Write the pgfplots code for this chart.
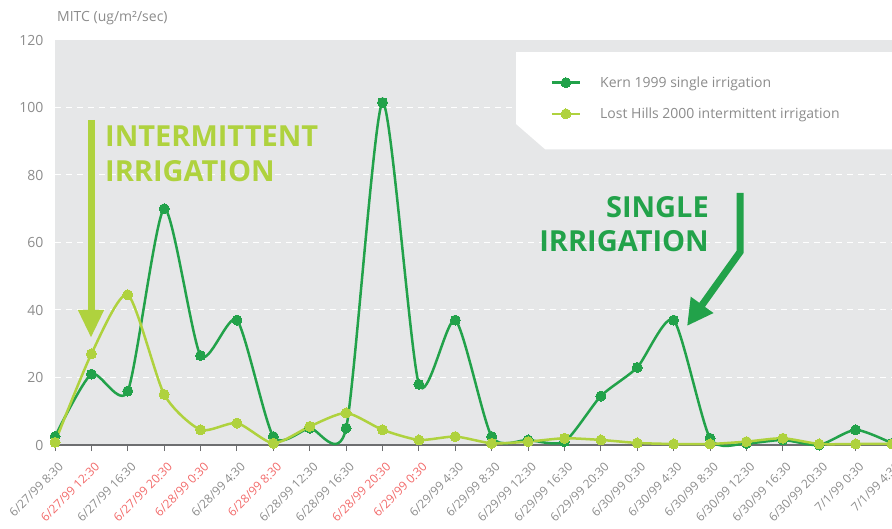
\documentclass[border=0pt]{standalone}
\usepackage{pgfplots}
\pgfplotsset{compat=1.18}
\usepackage{fontspec}
\setmainfont{Open Sans}
\usetikzlibrary{arrows.meta}
\definecolor{dg}{HTML}{22A24A}
\definecolor{lg}{HTML}{AFD23E}
\definecolor{bg}{HTML}{E6E7E8}
\definecolor{tx}{HTML}{8C8C8C}
\definecolor{rd}{HTML}{F26A6A}
\definecolor{axc}{HTML}{6D6E70}
\begin{document}
\begin{tikzpicture}[x=1pt,y=1pt]
\path[use as bounding box] (0,0) rectangle (892,528);
\begin{axis}[
  at={(55pt,83pt)}, anchor=south west, scale only axis,
  width=837pt, height=405pt,
  xmin=0, xmax=23, ymin=0, ymax=120, clip=false,
  axis background/.style={fill=bg},
  axis x line=bottom, axis y line=left,
  axis line style={-},
  x axis line style={axc, line width=1.5pt},
  y axis line style={draw=none},
  ytick={0,20,...,120}, ytick style={draw=none},
  xtick={0,...,23}, xtick style={axc, line width=1pt},
  tick align=outside, major tick length=6pt,
  ymajorgrids, grid style={white, dash pattern=on 6pt off 5pt, line width=1pt},
  /pgf/number format/assume math mode=true,
  yticklabel style={tx, font=\fontsize{14}{16}\selectfont, xshift=-2pt},
  xticklabel style={tx, font=\fontsize{12}{14}\selectfont, rotate=45, anchor=north east, inner sep=1pt, xshift=-4.6pt, yshift=-8.5pt},
  xticklabels={6/27/99 8:30,\textcolor{rd}{6/27/99 12:30},6/27/99 16:30,\textcolor{rd}{6/27/99 20:30},\textcolor{rd}{6/28/99 0:30},6/28/99 4:30,\textcolor{rd}{6/28/99 8:30},6/28/99 12:30,6/28/99 16:30,\textcolor{rd}{6/28/99 20:30},\textcolor{rd}{6/29/99 0:30},6/29/99 4:30,6/29/99 8:30,6/29/99 12:30,6/29/99 16:30,6/29/99 20:30,6/30/99 0:30,6/30/99 4:30,6/30/99 8:30,6/30/99 12:30,6/30/99 16:30,6/30/99 20:30,7/1/99 0:30,7/1/99 4:30},
  legend style={at={(0.592,0.915)}, anchor=north west, draw=none, fill=none,
    font=\fontsize{14}{16}\selectfont, text=tx, row sep=15pt, inner sep=0pt,
    /tikz/every odd column/.append style={column sep=17pt}},
  legend cell align=left,
  legend image code/.code={\draw[#1, mark repeat=2, mark phase=2] plot coordinates {(0pt,0pt) (14pt,0pt) (28pt,0pt)};},
]
\fill[white] (12.67,116.4) -- (23.2,116.4) -- (23.2,87.6) -- (13.47,87.6) -- (12.67,95.1) -- cycle;
\addplot[dg, line width=2.5pt, smooth, tension=0.4, mark=*, mark size=5pt, mark options={solid, fill=dg, draw=dg, line width=0pt}]
  coordinates {(0,2.5) (1,21) (2,16) (3,70) (4,26.5) (5,37) (6,2.5) (7,5) (8,5) (9,101.5) (10,18) (11,37) (12,2.5) (13,1.5) (14,1) (15,14.5) (16,23) (17,37) (18,2) (19,0.5) (20,1.5) (21,0) (22,4.5) (23,0.5)};
\addlegendentry{Kern 1999 single irrigation}
\addplot[lg, line width=2.5pt, smooth, tension=0.4, mark=*, mark size=5pt, mark options={solid, fill=lg, draw=lg, line width=0pt}]
  coordinates {(0,0.8) (1,27) (2,44.5) (3,15) (4,4.5) (5,6.5) (6,0.5) (7,5.5) (8,9.5) (9,4.5) (10,1.5) (11,2.5) (12,0.5) (13,1) (14,2) (15,1.5) (16,0.6) (17,0.3) (18,0.3) (19,1) (20,2) (21,0.3) (22,0.3) (23,0.3)};
\addlegendentry{Lost Hills 2000 intermittent irrigation}
\end{axis}
\begin{scope}[shift={(0,528)}, y=-1pt]
\node[tx, anchor=base west, font=\fontsize{14}{16}\selectfont, inner sep=0pt] at (57,22) {MITC (ug/m²/sec)};
\draw[lg, line width=7pt, -{Triangle[length=28pt, width=24pt]}] (91,120) -- (91,338);
\node[lg, anchor=base west, font=\bfseries\fontsize{29}{33}\selectfont, inner sep=0pt] at (105,147) {INTERMITTENT};
\node[lg, anchor=base west, font=\bfseries\fontsize{29}{33}\selectfont, inner sep=0pt] at (105,182) {IRRIGATION};
\draw[dg, line width=7pt, line join=miter, -{Triangle[length=26pt, width=26pt]}] (740,193) -- (740,252) -- (687,326);
\node[dg, anchor=base east, font=\bfseries\fontsize{29}{33}\selectfont, inner sep=0pt] at (709,218) {SINGLE};
\node[dg, anchor=base east, font=\bfseries\fontsize{29}{33}\selectfont, inner sep=0pt] at (709,252) {IRRIGATION};
\end{scope}
\end{tikzpicture}
\end{document}
